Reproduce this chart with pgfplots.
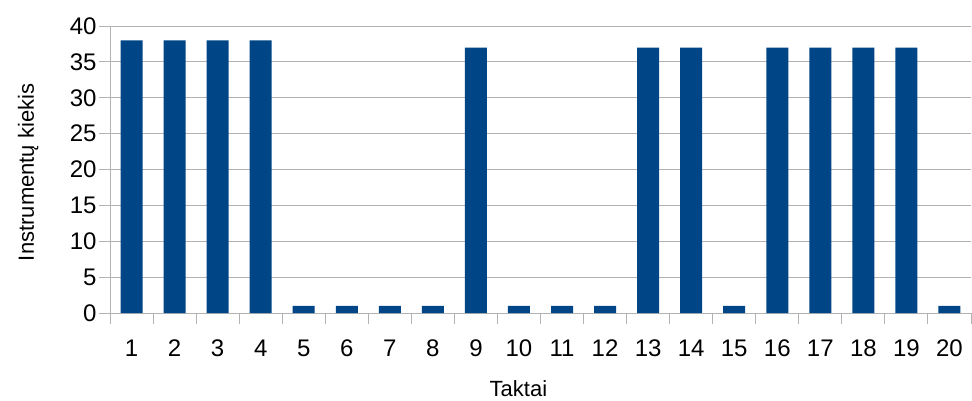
\documentclass[border=0pt]{standalone}
\usepackage{pgfplots}
\pgfplotsset{compat=1.18}
\usepackage{fontspec}
\setmainfont{Liberation Sans}
\definecolor{barblue}{HTML}{004586}
\definecolor{gridgray}{HTML}{B3B3B3}
\begin{document}
\begin{tikzpicture}
\useasboundingbox (0,0) rectangle (972pt,400pt);
\begin{axis}[
  at={(110pt,87pt)}, anchor=south west,
  scale only axis, width=861pt, height=287pt,
  xmin=0.5, xmax=20.5, ymin=0, ymax=40,
  ybar, bar width=22pt,
  axis x line=bottom, axis y line=left,
  axis line style={draw=gridgray, line width=1pt, -},
  xtick={1,...,20},
  minor xtick={0.5,1.5,...,20.5},
  ytick={0,5,...,40},
  ymajorgrids, grid style={draw=gridgray, line width=1pt},
  tick align=outside,
  major tick length=11pt, minor tick length=11pt,
  xtick style={draw=none},
  minor x tick style={draw=gridgray, line width=1pt},
  ytick style={draw=gridgray, line width=1pt},
  /pgf/number format/assume math mode=true,
  tick label style={font=\fontsize{24}{28}\selectfont},
  xticklabel style={yshift=-12pt},
  yticklabel style={xshift=1pt},
  label style={font=\fontsize{22}{26}\selectfont},
  xlabel={Taktai}, ylabel={Instrumentų kiekis},
  xlabel style={at={(axis description cs:0.4744,-0.263)}, anchor=center},
  ylabel style={at={(axis description cs:-0.095,0.49)}, anchor=center},
]
\addplot[fill=barblue, draw=none] coordinates {
(1,38) (2,38) (3,38) (4,38) (5,1) (6,1) (7,1) (8,1) (9,37) (10,1)
(11,1) (12,1) (13,37) (14,37) (15,1) (16,37) (17,37) (18,37) (19,37) (20,1)
};
\end{axis}
\end{tikzpicture}
\end{document}
